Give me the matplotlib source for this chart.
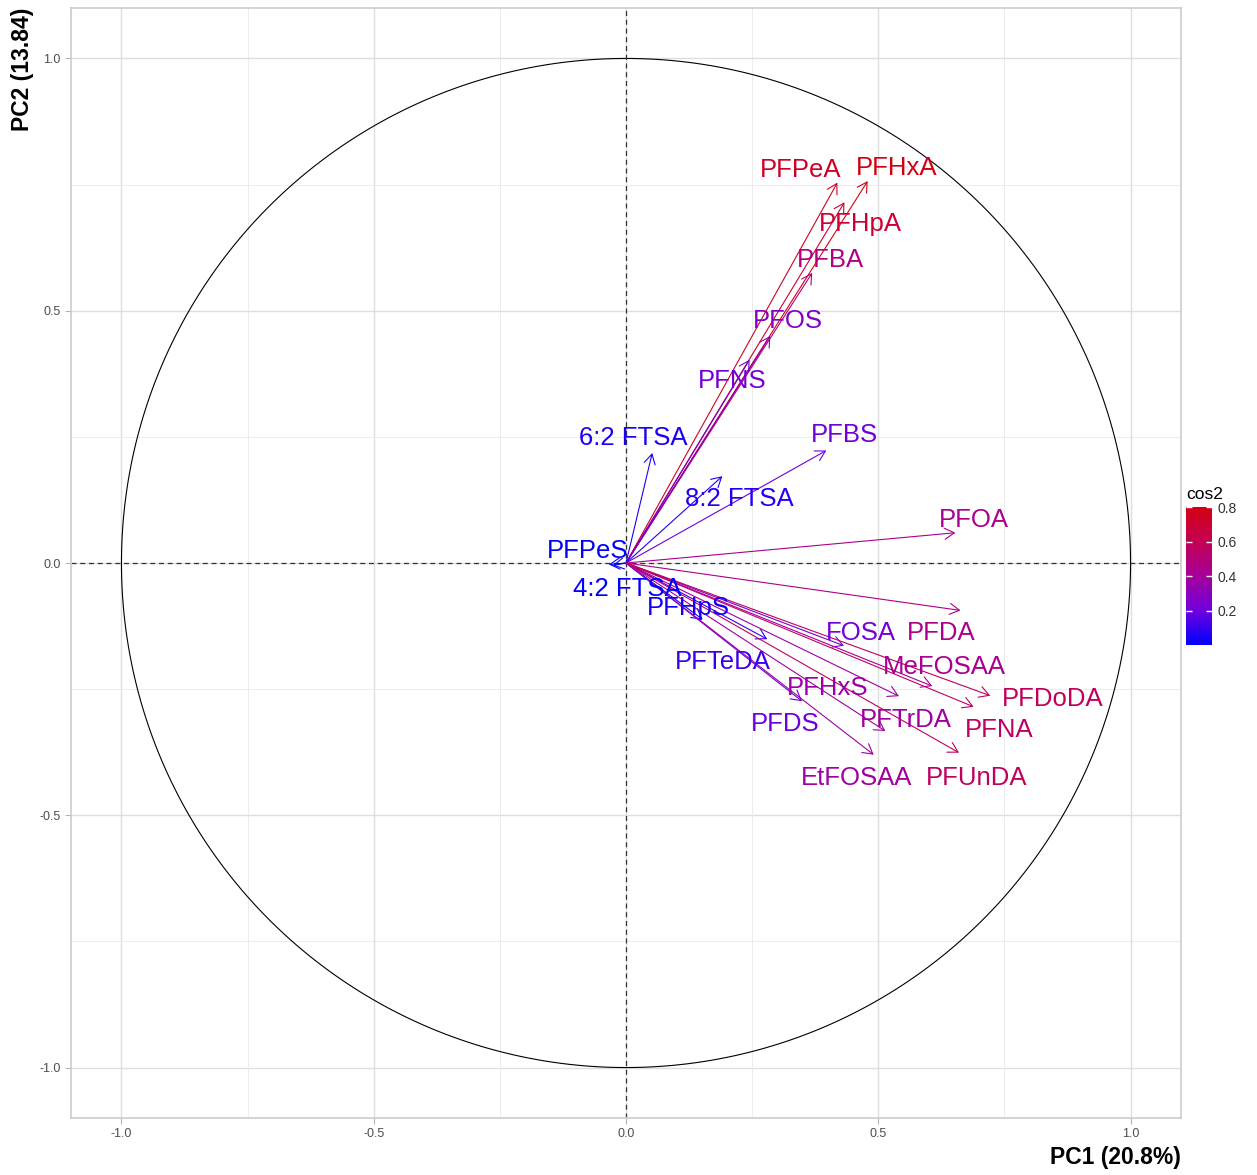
import matplotlib.pyplot as plt
import numpy as np
from matplotlib.colors import LinearSegmentedColormap, Normalize
from matplotlib.cm import ScalarMappable

plt.rcParams['font.family'] = ['Liberation Sans', 'DejaVu Sans']

# ---- variable coordinates on PC1 / PC2 ----
variables = ['PFPeA', 'PFHxA', 'PFHpA', 'PFBA', 'PFOS', 'PFNS', '6:2 FTSA',
             'PFBS', '8:2 FTSA', 'PFOA', 'PFPeS', '4:2 FTSA', 'PFHpS', 'FOSA',
             'PFDA', 'PFTeDA', 'MeFOSAA', 'PFHxS', 'PFDoDA', 'PFTrDA', 'PFNA',
             'PFDS', 'EtFOSAA', 'PFUnDA']
pc1 = [0.419, 0.479, 0.433, 0.369, 0.286, 0.245, 0.052,
       0.397, 0.191, 0.653, -0.034, -0.026, 0.152, 0.432,
       0.663, 0.280, 0.607, 0.541, 0.722, 0.514, 0.689,
       0.349, 0.491, 0.660]
pc2 = [0.754, 0.757, 0.715, 0.575, 0.450, 0.403, 0.218,
       0.223, 0.172, 0.060, -0.003, -0.005, -0.112, -0.164,
       -0.094, -0.151, -0.244, -0.264, -0.263, -0.333, -0.285,
       -0.274, -0.380, -0.376]

# label positions after repelling (data units)
label_x = [0.346, 0.536, 0.465, 0.405, 0.320, 0.211, 0.015,
           0.433, 0.225, 0.689, -0.076, 0.003, 0.124, 0.465,
           0.625, 0.191, 0.631, 0.399, 0.846, 0.554, 0.740,
           0.316, 0.457, 0.695]
label_y = [0.779, 0.783, 0.672, 0.601, 0.480, 0.361, 0.248,
           0.254, 0.127, 0.085, 0.024, -0.052, -0.089, -0.139,
           -0.139, -0.196, -0.206, -0.248, -0.269, -0.311, -0.331,
           -0.319, -0.426, -0.426]

pc1_label = 'PC1 (20.8%)'
pc2_label = 'PC2 (13.84)'

x = np.array(pc1)
y = np.array(pc2)
cos2 = x ** 2 + y ** 2

cmap = LinearSegmentedColormap.from_list(
    'cos2', [(0.0, '#0000FF'), (0.25, '#7000DC'), (0.5, '#A5009A'),
             (0.75, '#C40055'), (1.0, '#D40012')])
norm = Normalize(vmin=cos2.min(), vmax=cos2.max())

fig = plt.figure(figsize=(12.57, 11.75), dpi=100)
ax = fig.add_axes([71 / 1257, 57 / 1175, 1110 / 1257, 1110 / 1175])

# grid (major + minor like ggplot)
for v in np.arange(-1.0, 1.01, 0.25):
    major = abs(v * 2 - round(v * 2)) < 1e-9
    c = '#dedede' if major else '#ececec'
    lw = 1.0 if major else 0.7
    ax.axvline(v, color=c, lw=lw, zorder=0)
    ax.axhline(v, color=c, lw=lw, zorder=0)

# correlation circle
t = np.linspace(0, 2 * np.pi, 400)
ax.plot(np.cos(t), np.sin(t), color='black', lw=0.8, zorder=1)
ax.axhline(0, color='#333333', lw=0.9, ls=(0, (4, 3)), zorder=1)
ax.axvline(0, color='#333333', lw=0.9, ls=(0, (4, 3)), zorder=1)

# arrows
for xi, yi, ci in zip(x, y, cos2):
    ax.annotate('', xy=(xi, yi), xytext=(0, 0),
                arrowprops=dict(arrowstyle='->,head_length=0.35,head_width=0.2',
                                color=cmap(norm(ci)), lw=0.8,
                                shrinkA=0, shrinkB=0, mutation_scale=20),
                zorder=2)

# labels
for name, lx, ly, ci in zip(variables, label_x, label_y, cos2):
    ax.text(lx, ly, name, color=cmap(norm(ci)), fontsize=18.5,
            ha='center', va='center', zorder=3)

ax.set_xlim(-1.1, 1.1)
ax.set_ylim(-1.1, 1.1)
ax.set_xticks([-1.0, -0.5, 0.0, 0.5, 1.0])
ax.set_yticks([-1.0, -0.5, 0.0, 0.5, 1.0])
ax.set_xticklabels(['-1.0', '-0.5', '0.0', '0.5', '1.0'])
ax.set_yticklabels(['-1.0', '-0.5', '0.0', '0.5', '1.0'])
ax.tick_params(colors='#b3b3b3', labelcolor='#4d4d4d', labelsize=9,
               length=4, width=0.8)
for s in ax.spines.values():
    s.set_color('#cccccc')
    s.set_linewidth(1.2)

ax.set_xlabel(pc1_label, fontsize=16.5, fontweight='bold', loc='right', labelpad=4)
ax.set_ylabel(pc2_label, fontsize=16.5, fontweight='bold', loc='top', labelpad=4)

# colour bar
cax = fig.add_axes([1186 / 1257, (1175 - 645) / 1175, 26 / 1257, 138 / 1175])
sm = ScalarMappable(norm=norm, cmap=cmap)
cb = fig.colorbar(sm, cax=cax, ticks=[0.2, 0.4, 0.6, 0.8])
cb.outline.set_visible(False)
cax.tick_params(axis='y', direction='in', color='white', length=4, width=1,
                left=True, right=True, labelsize=10, labelcolor='#333333', pad=4)
cax.set_yticklabels(['0.2', '0.4', '0.6', '0.8'])
cax.set_title('cos2', fontsize=12.5, loc='left', pad=6)

plt.savefig('out.png', dpi=100)
